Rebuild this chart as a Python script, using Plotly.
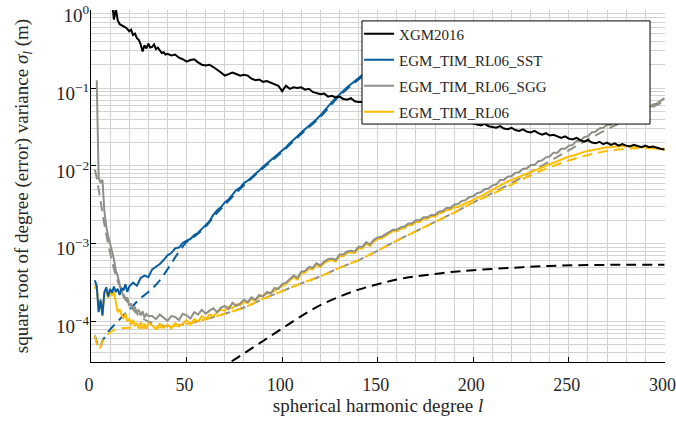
import plotly.graph_objects as go

# ---------------- data (log10 of sigma_l in metres) ----------------
xgm_deg = list(range(11, 41)) + list(range(42, 301, 2))
xgm_log = [0.10, -0.12, 0.02, -0.13, -0.18, -0.19, -0.21, -0.22, -0.24, -0.27,
           -0.25, -0.32, -0.30, -0.36, -0.38, -0.44, -0.53, -0.45, -0.49, -0.43,
           -0.48, -0.47, -0.44, -0.50, -0.48, -0.52, -0.55, -0.54, -0.57, -0.56,
           -0.58, -0.57, -0.61, -0.63, -0.66, -0.64, -0.63, -0.67, -0.70, -0.71,
           -0.70, -0.73, -0.76, -0.80, -0.84, -0.82, -0.80, -0.82, -0.84, -0.83,
           -0.84, -0.88, -0.90, -0.89, -0.92, -0.91, -0.93, -0.94, -0.97, -1.04,
           -0.97, -1.01, -0.99, -1.00, -0.99, -1.02, -1.01, -1.05, -1.07, -1.08,
           -1.07, -1.11, -1.10, -1.12, -1.11, -1.14, -1.15, -1.13, -1.17, -1.18,
           -1.18, -1.20, -1.22, -1.21, -1.23, -1.25, -1.24, -1.26, -1.28, -1.27,
           -1.29, -1.31, -1.30, -1.32, -1.34, -1.33, -1.35, -1.37, -1.36, -1.38,
           -1.39, -1.41, -1.40, -1.42, -1.43, -1.42, -1.44, -1.45, -1.44, -1.46,
           -1.47, -1.48, -1.46, -1.49, -1.50, -1.51, -1.49, -1.52, -1.53, -1.51,
           -1.54, -1.55, -1.53, -1.56, -1.57, -1.55, -1.58, -1.60, -1.58, -1.61,
           -1.60, -1.62, -1.64, -1.62, -1.65, -1.66, -1.64, -1.67, -1.69, -1.67,
           -1.70, -1.71, -1.69, -1.72, -1.70, -1.73, -1.71, -1.74, -1.72, -1.74,
           -1.75, -1.73, -1.75, -1.76, -1.74, -1.76, -1.75, -1.77, -1.78, -1.79]

sst_deg = list(range(2, 21)) + list(range(22, 151, 2))
sst_log = [-3.47, -3.55, -3.88, -3.72, -3.92, -3.62, -3.56, -3.68, -3.58, -3.63,
           -3.55, -3.62, -3.58, -3.66, -3.57, -3.60, -3.52, -3.62, -3.55,
           -3.50, -3.54, -3.44, -3.41, -3.43, -3.33, -3.30, -3.26, -3.21, -3.15,
           -3.12, -3.06, -3.05, -2.99, -2.96, -2.94, -2.89, -2.86, -2.81, -2.76,
           -2.71, -2.63, -2.57, -2.53, -2.47, -2.43, -2.37, -2.31, -2.28, -2.22,
           -2.19, -2.15, -2.10, -2.06, -2.01, -1.97, -1.93, -1.88, -1.85, -1.80,
           -1.76, -1.71, -1.67, -1.62, -1.57, -1.53, -1.48, -1.44, -1.40, -1.35,
           -1.29, -1.24, -1.18, -1.13, -1.08, -1.03, -0.99, -0.95, -0.91, -0.87,
           -0.83, -0.79, -0.75, -0.71, -0.67]

sst_model_deg = [2, 3, 4, 5, 6, 8, 10, 12, 14, 17, 20, 25, 30, 35, 40, 45, 50, 55, 60,
                 65, 70, 80, 90, 100, 110, 120, 130, 140, 150]
sst_model_log = [-4.18, -4.26, -4.34, -4.32, -4.25, -4.17, -4.10, -4.05, -4.00, -3.92,
                 -3.85, -3.72, -3.62, -3.50, -3.33, -3.14, -2.98, -2.89, -2.78, -2.63,
                 -2.50, -2.25, -2.03, -1.82, -1.59, -1.37, -1.10, -0.89, -0.69]

sgg_deg = list(range(3, 31)) + list(range(32, 301, 2))
sgg_log = [-0.90, -2.15, -2.22, -2.18, -2.58, -2.78, -2.90, -3.00, -3.12, -3.20,
           -3.35, -3.42, -3.52, -3.60, -3.68, -3.72, -3.69, -3.80, -3.77, -3.85,
           -3.82, -3.88, -3.85, -3.92, -3.87, -3.95, -3.90, -3.93,
           -3.93, -3.97, -3.91, -3.95, -3.99, -3.93, -3.94, -3.98, -3.90, -3.92,
           -3.96, -3.88, -3.91, -3.85, -3.90, -3.86, -3.83, -3.88, -3.82, -3.80,
           -3.84, -3.76, -3.80, -3.77, -3.72, -3.75, -3.69, -3.72, -3.66, -3.68,
           -3.62, -3.64, -3.57, -3.58, -3.52, -3.50, -3.45, -3.41, -3.44, -3.36,
           -3.35, -3.30, -3.31, -3.25, -3.28, -3.23, -3.20, -3.19, -3.21, -3.14,
           -3.14, -3.10, -3.09, -3.10, -3.04, -3.04, -2.98, -3.01, -2.95, -2.92,
           -2.91, -2.88, -2.86, -2.82, -2.82, -2.79, -2.78, -2.74, -2.74, -2.70,
           -2.70, -2.66, -2.66, -2.63, -2.63, -2.59, -2.58, -2.54, -2.54, -2.50,
           -2.49, -2.45, -2.44, -2.40, -2.39, -2.35, -2.34, -2.30, -2.29, -2.25,
           -2.24, -2.18, -2.18, -2.14, -2.13, -2.09, -2.08, -2.04, -2.03, -1.99,
           -1.99, -1.94, -1.93, -1.89, -1.88, -1.83, -1.83, -1.78, -1.78, -1.74,
           -1.73, -1.68, -1.68, -1.63, -1.62, -1.57, -1.56, -1.52, -1.51, -1.47,
           -1.47, -1.42, -1.42, -1.38, -1.38, -1.34, -1.35, -1.31, -1.30, -1.26,
           -1.25, -1.21, -1.20, -1.16, -1.13]

sgg_model_deg = [2, 3, 4, 5, 6, 7, 8, 10, 12, 14, 16, 18, 20, 25, 30, 35, 40,
                 50, 60, 70, 80, 90, 100, 110, 120, 130, 140, 150, 160, 170, 180,
                 190, 200, 210, 220, 230, 240, 250, 260, 270, 280, 290, 300]
sgg_model_log = [-2.05, -2.15, -2.30, -2.45, -2.60, -2.75, -2.88,
                 -3.12, -3.32, -3.48, -3.60, -3.70, -3.78,
                 -3.92, -4.00, -4.04, -4.06,
                 -4.03, -3.97, -3.90, -3.82, -3.71, -3.61, -3.51, -3.42, -3.31, -3.21,
                 -3.09, -2.96, -2.84, -2.72, -2.60, -2.47, -2.35, -2.22, -2.08, -1.94,
                 -1.80, -1.66, -1.53, -1.41, -1.29, -1.17]

rl06_deg = list(range(2, 31)) + list(range(32, 301, 2))
rl06_log = [-3.58, -3.50, -3.86, -3.74, -3.93, -3.64, -3.60, -3.70, -3.62, -3.66,
            -3.62, -3.78, -3.88, -3.84, -3.92, -3.96, -3.90, -4.00, -3.96, -4.04,
            -3.98, -4.06, -4.02, -4.08, -4.01, -4.07, -4.03, -4.09, -4.02,
            -4.05, -4.10, -4.03, -4.08, -4.04, -4.09, -4.02, -4.06, -4.03, -3.98,
            -4.04, -3.97, -4.00, -3.93, -3.97, -3.91, -3.93, -3.88, -3.85, -3.86,
            -3.81, -3.83, -3.78, -3.79, -3.75, -3.76, -3.71, -3.73, -3.68, -3.66,
            -3.64, -3.62, -3.61, -3.57, -3.55, -3.52, -3.47, -3.43, -3.46, -3.38,
            -3.37, -3.32, -3.33, -3.27, -3.30, -3.25, -3.22, -3.21, -3.23, -3.16,
            -3.16, -3.12, -3.11, -3.12, -3.06, -3.06, -3.00, -3.03, -2.97, -2.94,
            -2.93, -2.90, -2.88, -2.84, -2.84, -2.81, -2.80, -2.76, -2.76, -2.72,
            -2.72, -2.68, -2.68, -2.65, -2.65, -2.61, -2.60, -2.57, -2.56, -2.53,
            -2.53, -2.50, -2.48, -2.46, -2.44, -2.41, -2.39, -2.36, -2.34, -2.31,
            -2.28, -2.25, -2.23, -2.20, -2.18, -2.16, -2.13, -2.11, -2.09, -2.07,
            -2.05, -2.03, -2.01, -1.99, -1.97, -1.95, -1.93, -1.92, -1.90, -1.88,
            -1.87, -1.85, -1.84, -1.82, -1.81, -1.80, -1.79, -1.78, -1.77, -1.76,
            -1.76, -1.75, -1.75, -1.74, -1.75, -1.74, -1.75, -1.75, -1.76, -1.76,
            -1.77, -1.76, -1.78, -1.78, -1.79]

rl06_model_deg = [2, 3, 4, 5, 6, 8, 10, 12, 15, 20, 30, 40, 50, 60, 70, 80, 90, 100,
                  110, 120, 130, 140, 150, 160, 170, 180, 190, 200, 210, 220, 230,
                  240, 250, 260, 270, 280, 290, 300]
rl06_model_log = [-4.18, -4.28, -4.36, -4.32, -4.26, -4.18, -4.14, -4.11, -4.09, -4.08,
                  -4.08, -4.07, -4.03, -3.97, -3.90, -3.82, -3.71, -3.61, -3.51, -3.42,
                  -3.31, -3.21, -3.09, -2.96, -2.84, -2.72, -2.60, -2.47, -2.36, -2.24,
                  -2.12, -2.02, -1.93, -1.86, -1.81, -1.78, -1.77, -1.79]

ref_deg = [60, 70, 80, 90, 100, 110, 120, 130, 140, 150, 160, 170, 180, 190, 200,
           220, 240, 260, 280, 300]
ref_log = [-4.75, -4.57, -4.41, -4.25, -4.09, -3.93, -3.79, -3.68, -3.59, -3.52,
           -3.46, -3.42, -3.39, -3.36, -3.34, -3.31, -3.285, -3.275, -3.27, -3.27]

legend_names = ["XGM2016", "EGM_TIM_RL06_SST", "EGM_TIM_RL06_SGG", "EGM_TIM_RL06"]
y_tick_vals = [1e-4, 1e-3, 1e-2, 1e-1, 1]
y_tick_text = ["10<sup>−4</sup>", "10<sup>−3</sup>", "10<sup>−2</sup>",
               "10<sup>−1</sup>", "10<sup>0</sup>"]
x_tick_vals = [0, 50, 100, 150, 200, 250, 300]

# ---------------- styling ----------------
C_BLACK = "#000000"
C_BLUE = "#0a5e9c"
C_GRAY = "#8f8f87"
C_YELLOW = "#ffbd00"
FONT = "Liberation Serif"
TXT = "#262626"
GRID = "#d2d2d2"
DASH = "10px,6px"


def pw(vals):
    return [10 ** v for v in vals]


fig = go.Figure()

# dashed model curves
fig.add_trace(go.Scatter(x=ref_deg, y=pw(ref_log), mode="lines", showlegend=False,
                         line=dict(color=C_BLACK, width=2, dash=DASH, shape="spline")))
fig.add_trace(go.Scatter(x=sst_model_deg, y=pw(sst_model_log), mode="lines", showlegend=False,
                         line=dict(color=C_BLUE, width=2, dash=DASH, shape="spline")))
fig.add_trace(go.Scatter(x=sgg_model_deg, y=pw(sgg_model_log), mode="lines", showlegend=False,
                         line=dict(color=C_GRAY, width=2, dash=DASH, shape="spline")))
fig.add_trace(go.Scatter(x=rl06_model_deg, y=pw(rl06_model_log), mode="lines", showlegend=False,
                         line=dict(color=C_YELLOW, width=2, dash=DASH, shape="spline")))

# solid empirical curves
fig.add_trace(go.Scatter(x=rl06_deg, y=pw(rl06_log), mode="lines", name=legend_names[3],
                         legendrank=4, legendgroup="d",
                         line=dict(color=C_YELLOW, width=2)))
fig.add_trace(go.Scatter(x=sgg_deg, y=pw(sgg_log), mode="lines", name=legend_names[2],
                         legendrank=3, legendgroup="c",
                         line=dict(color=C_GRAY, width=2)))
fig.add_trace(go.Scatter(x=sst_deg, y=pw(sst_log), mode="lines", name=legend_names[1],
                         legendrank=2, legendgroup="b",
                         line=dict(color=C_BLUE, width=2)))
fig.add_trace(go.Scatter(x=xgm_deg, y=pw(xgm_log), mode="lines", name=legend_names[0],
                         legendrank=1, legendgroup="a",
                         line=dict(color=C_BLACK, width=2)))

# legend box
fig.add_shape(type="rect", xref="paper", yref="paper", x0=0.4721, x1=0.9739, y0=0.676, y1=0.969,
              fillcolor="white", line=dict(color="black", width=1), layer="above")

fig.update_layout(
    width=676, height=422,
    margin=dict(l=91, r=11, t=10, b=60, autoexpand=False),
    paper_bgcolor="white", plot_bgcolor="white",
    font=dict(family=FONT, size=19, color=TXT),
    showlegend=True,
    legend=dict(x=0.467, y=0.979, xanchor="left", yanchor="top",
                bgcolor="rgba(0,0,0,0)", borderwidth=0,
                font=dict(family=FONT, size=15, color=TXT),
                tracegroupgap=3.5, itemwidth=30),
    xaxis=dict(range=[0, 300.3], tickvals=x_tick_vals, ticks="inside", ticklen=5,
               tickcolor="black", showline=True, linecolor="black", linewidth=1,
               showgrid=True, gridcolor=GRID, gridwidth=1, zeroline=False, automargin=False,
               ticklabeloverflow="allow", ticklabelstandoff=6, ticklabelshift=-2,
               minor=dict(dtick=10, showgrid=True, gridcolor=GRID, gridwidth=1, ticks=""),
               title=dict(text="spherical harmonic degree <i>l</i>",
                          font=dict(family=FONT, size=19, color=TXT), standoff=5),
               tickfont=dict(family=FONT, size=18, color=TXT)),
    yaxis=dict(type="log", range=[-4.52, 0.003], tickvals=y_tick_vals, ticktext=y_tick_text,
               ticks="inside", ticklen=5, tickcolor="black", automargin=False,
               ticklabeloverflow="allow", ticklabelstandoff=-3, ticklabelshift=5,
               showline=True, linecolor="black", linewidth=1,
               showgrid=True, gridcolor=GRID, gridwidth=1, zeroline=False,
               minor=dict(dtick="D1", showgrid=True, gridcolor=GRID, gridwidth=1, ticks=""),
               title=dict(text="square root of degree (error) variance <i>σ<sub>l</sub></i> (m)",
                          font=dict(family=FONT, size=19, color=TXT), standoff=22),
               tickfont=dict(family=FONT, size=19, color=TXT)),
)

fig.write_html("out.html", config={"displayModeBar": False},
               post_script="document.body.style.margin='0';")
